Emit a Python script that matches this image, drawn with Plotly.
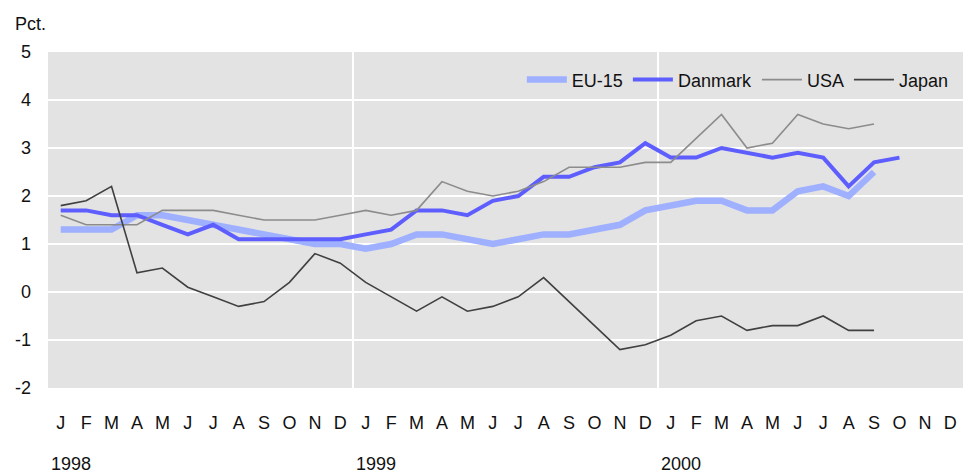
import plotly.graph_objects as go

months = ["J", "F", "M", "A", "M", "J", "J", "A", "S", "O", "N", "D"] * 3
years = ["1998", "1999", "2000"]

eu15 = [1.3, 1.3, 1.3, 1.6, 1.6, 1.5, 1.4, 1.3, 1.2, 1.1, 1.0, 1.0,
        0.9, 1.0, 1.2, 1.2, 1.1, 1.0, 1.1, 1.2, 1.2, 1.3, 1.4, 1.7,
        1.8, 1.9, 1.9, 1.7, 1.7, 2.1, 2.2, 2.0, 2.5]
danmark = [1.7, 1.7, 1.6, 1.6, 1.4, 1.2, 1.4, 1.1, 1.1, 1.1, 1.1, 1.1,
           1.2, 1.3, 1.7, 1.7, 1.6, 1.9, 2.0, 2.4, 2.4, 2.6, 2.7, 3.1,
           2.8, 2.8, 3.0, 2.9, 2.8, 2.9, 2.8, 2.2, 2.7, 2.8]
usa = [1.6, 1.4, 1.4, 1.4, 1.7, 1.7, 1.7, 1.6, 1.5, 1.5, 1.5, 1.6,
       1.7, 1.6, 1.7, 2.3, 2.1, 2.0, 2.1, 2.3, 2.6, 2.6, 2.6, 2.7,
       2.7, 3.2, 3.7, 3.0, 3.1, 3.7, 3.5, 3.4, 3.5]
japan = [1.8, 1.9, 2.2, 0.4, 0.5, 0.1, -0.1, -0.3, -0.2, 0.2, 0.8, 0.6,
         0.2, -0.1, -0.4, -0.1, -0.4, -0.3, -0.1, 0.3, -0.2, -0.7, -1.2, -1.1,
         -0.9, -0.6, -0.5, -0.8, -0.7, -0.7, -0.5, -0.8, -0.8]

y_ticks = [5, 4, 3, 2, 1, 0, -1, -2]

FONT = "Liberation Sans Narrow, Arial Narrow, Liberation Sans, Arial, sans-serif"
FS = 18

fig = go.Figure()
series = [
    ("EU-15", eu15, "#9eb0ff", 6.5),
    ("Danmark", danmark, "#5e5eff", 4),
    ("USA", usa, "#8c8c8c", 1.6),
    ("Japan", japan, "#404040", 1.6),
]
for name, vals, color, w in series:
    fig.add_trace(go.Scatter(
        x=list(range(len(vals))), y=vals, name=name, mode="lines",
        line=dict(color=color, width=w),
    ))

n = len(months)
for k in range(1, len(years)):
    fig.add_shape(type="line", xref="x", yref="paper",
                  x0=12 * k - 0.5, x1=12 * k - 0.5, y0=0, y1=1,
                  line=dict(color="white", width=2), layer="below")

for k, yr in enumerate(years):
    fig.add_annotation(x=12 * k - 0.5, y=0, xref="x", yref="paper",
                       text=yr, showarrow=False, xanchor="left", yanchor="top",
                       yshift=-64, xshift=1,
                       font=dict(family=FONT, size=FS, color="#111"))

fig.add_annotation(x=0, y=1, xref="paper", yref="paper", text="Pct.",
                   showarrow=False, xanchor="left", yanchor="bottom",
                   xshift=-35, yshift=16,
                   font=dict(family=FONT, size=FS, color="#111"))

fig.update_layout(
    width=963, height=474,
    margin=dict(l=48, r=0, t=52, b=86),
    paper_bgcolor="white", plot_bgcolor="#e3e3e3",
    font=dict(family=FONT, size=FS, color="#111"),
    showlegend=True,
    legend=dict(orientation="h", x=0.99, xanchor="right", y=0.917, yanchor="middle",
                bgcolor="rgba(0,0,0,0)", font=dict(family=FONT, size=FS, color="#111"),
                itemwidth=40, tracegroupgap=0),
    xaxis=dict(range=[-0.5, n - 0.5], tickmode="array",
               tickvals=list(range(n)), ticktext=months,
               showgrid=False, zeroline=False, showline=False,
               ticks="", ticklabelstandoff=22, fixedrange=True,
               automargin=False),
    yaxis=dict(range=[-2, 5], tickmode="array", tickvals=y_ticks,
               ticktext=[str(v) for v in y_ticks],
               showgrid=True, gridcolor="white", gridwidth=2,
               zeroline=False, showline=False, ticks="",
               ticklabelstandoff=16, fixedrange=True,
               automargin=False),
)

fig.write_html("out.html", config={"displayModeBar": False},
               post_script="document.body.style.margin='0';")
